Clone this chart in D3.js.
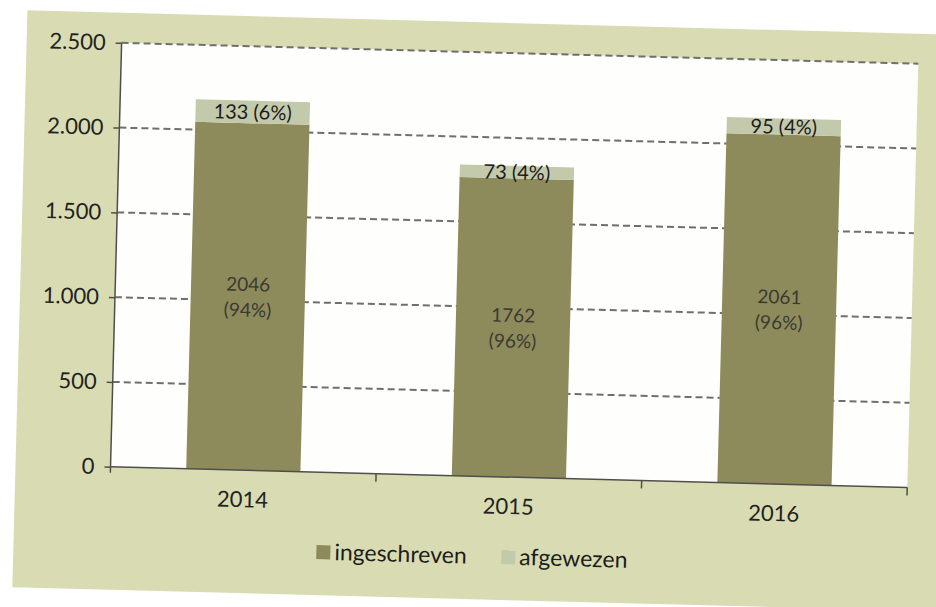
<!DOCTYPE html>
<html>
<head>
<meta charset="utf-8">
<script src="https://cdn.jsdelivr.net/npm/d3@7"></script>
<style>
  html, body { margin: 0; padding: 0; background: #ffffff; }
  svg { display: block; }
  text { font-family: Lato, "Noto Sans", sans-serif; }
</style>
</head>
<body>
<svg id="chart" width="936" height="607"></svg>
<script>
// ---- data ----
const years = ["2014", "2015", "2016"];
const ingeschreven = [2046, 1762, 2061];
const afgewezen = [133, 73, 95];
const pctIngeschreven = [94, 96, 96];
const pctAfgewezen = [6, 4, 4];
const yTicks = [0, 500, 1000, 1500, 2000, 2500];
const seriesNames = ["ingeschreven", "afgewezen"];

// ---- layout ----
const W = 936, H = 607;
const plot = { x0: 115, x1: 912, yTop: 52, y0: 476 };
const colors = { ingeschreven: "#8d8b5b", afgewezen: "#c3c9ab" };

const nl = d3.formatLocale({ decimal: ",", thousands: ".", grouping: [3], currency: ["€", ""] });
const fmt = nl.format(",d");

const svg = d3.select("#chart");
svg.append("rect").attr("width", W).attr("height", H).attr("fill", "#ffffff");

// the scanned page is slightly rotated
const g = svg.append("g").attr("transform", "rotate(1.5,468,300)");

// khaki panel
g.append("rect").attr("x", 20).attr("y", 22).attr("width", 960).attr("height", 577).attr("fill", "#d9dcb3");

// plot area
g.append("rect").attr("x", plot.x0).attr("y", plot.yTop)
  .attr("width", plot.x1 - plot.x0).attr("height", plot.y0 - plot.yTop).attr("fill", "#fefefc");

const x = d3.scaleBand().domain(years).range([plot.x0, plot.x1]).paddingInner(0.57).paddingOuter(0.285);
const y = d3.scaleLinear().domain([0, 2500]).range([plot.y0, plot.yTop]);

// gridlines
g.append("g").selectAll("line").data(yTicks.filter(d => d > 0)).join("line")
  .attr("x1", plot.x0).attr("x2", plot.x1)
  .attr("y1", d => y(d)).attr("y2", d => y(d))
  .attr("stroke", "#6f6f6c").attr("stroke-width", 2).attr("stroke-dasharray", "7,4");

// stacked bars
const rows = years.map((yr, i) => ({ year: yr, ingeschreven: ingeschreven[i], afgewezen: afgewezen[i], i }));
const stacked = d3.stack().keys(seriesNames)(rows);

g.append("g").selectAll("g").data(stacked).join("g")
  .attr("fill", s => colors[s.key])
  .selectAll("rect").data(s => s).join("rect")
  .attr("x", d => x(d.data.year))
  .attr("width", x.bandwidth())
  .attr("y", d => y(d[1]))
  .attr("height", d => y(d[0]) - y(d[1]));

// y axis
const yAxis = d3.axisLeft(y).tickValues(yTicks).tickFormat(fmt).tickSize(6).tickPadding(10);
const ya = g.append("g").attr("transform", `translate(${plot.x0},0)`).call(yAxis);
ya.select(".domain").attr("d", `M0,${plot.yTop}V${plot.y0 + 6}`).attr("stroke", "#4f4f4a").attr("stroke-width", 1.5);
ya.selectAll(".tick line").attr("stroke", "#4f4f4a").attr("stroke-width", 1.5);
ya.selectAll(".tick text").attr("font-size", 22).attr("fill", "#222220").attr("font-family", "Lato, sans-serif");

// x axis (ticks at category boundaries)
const boundaries = d3.range(years.length + 1).map(i => plot.x0 + i * x.step());
const xa = g.append("g");
xa.append("line").attr("x1", plot.x0).attr("x2", plot.x1).attr("y1", plot.y0).attr("y2", plot.y0)
  .attr("stroke", "#4f4f4a").attr("stroke-width", 1.5);
xa.selectAll("line.tk").data(boundaries.slice(1)).join("line").attr("class", "tk")
  .attr("x1", d => d).attr("x2", d => d).attr("y1", plot.y0).attr("y2", plot.y0 + 8)
  .attr("stroke", "#4f4f4a").attr("stroke-width", 1.5);
xa.selectAll("text").data(years).join("text")
  .attr("x", d => x(d) + x.bandwidth() / 2).attr("y", plot.y0 + 37)
  .attr("text-anchor", "middle").attr("font-size", 22).attr("fill", "#222220")
  .text(d => d);

// labels for afgewezen (top segment)
g.append("g").selectAll("text").data(rows).join("text")
  .attr("x", d => x(d.year) + x.bandwidth() / 2)
  .attr("y", d => y(d.ingeschreven + d.afgewezen / 2))
  .attr("dy", "0.36em").attr("text-anchor", "middle")
  .attr("font-size", 20).attr("fill", "#1c1c1a")
  .text(d => `${d.afgewezen} (${pctAfgewezen[d.i]}%)`);

// labels for ingeschreven (two lines, centered in segment)
const inLab = g.append("g").selectAll("text").data(rows).join("text")
  .attr("x", d => x(d.year) + x.bandwidth() / 2)
  .attr("y", d => y(d.ingeschreven / 2))
  .attr("text-anchor", "middle").attr("font-size", 19).attr("fill", "#3a3a32");
inLab.append("tspan").attr("x", d => x(d.year) + x.bandwidth() / 2).attr("dy", "-0.3em").text(d => d.ingeschreven);
inLab.append("tspan").attr("x", d => x(d.year) + x.bandwidth() / 2).attr("dy", "1.35em").text(d => `(${pctIngeschreven[d.i]}%)`);

// legend
const legendX = [323, 508];
const lg = g.append("g").selectAll("g").data(seriesNames).join("g")
  .attr("transform", (d, i) => `translate(${legendX[i]},549)`);
lg.append("rect").attr("width", 14).attr("height", 14).attr("fill", d => colors[d]);
lg.append("text").attr("x", 18).attr("y", 7).attr("dy", "0.33em")
  .attr("font-size", 23).attr("fill", "#1c1c1a").text(d => d);
</script>
</body>
</html>
